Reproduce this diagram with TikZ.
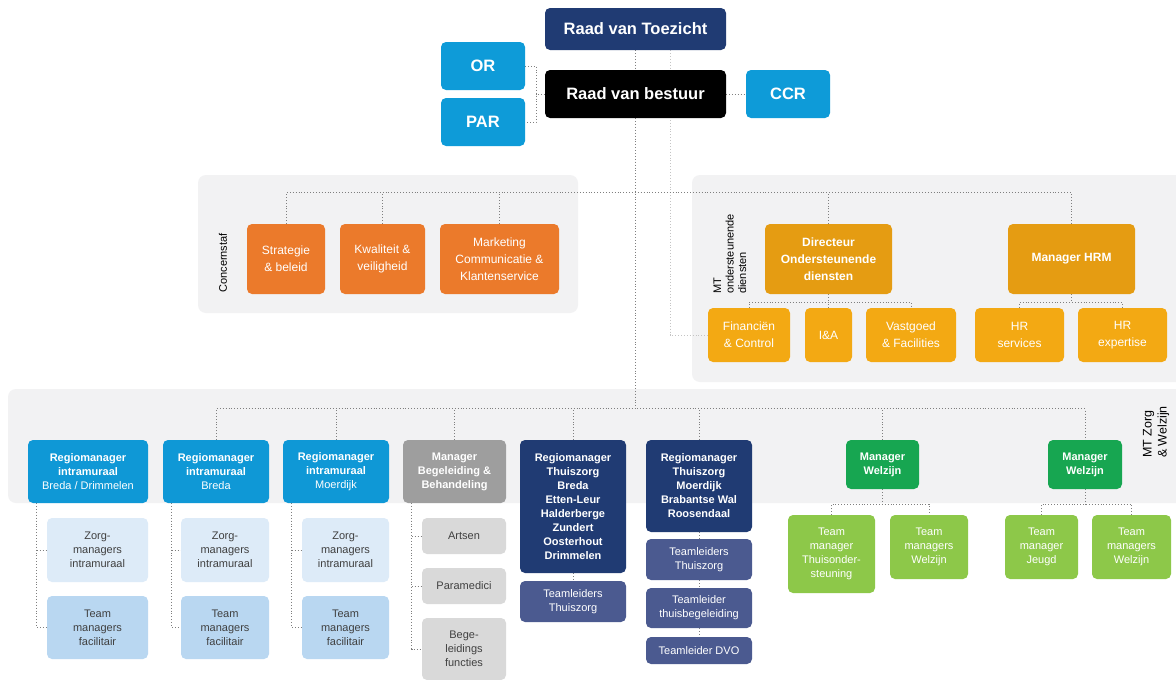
\documentclass[tikz,border=0pt]{standalone}
\usepackage{fontspec}
\setmainfont{Liberation Sans}
\usetikzlibrary{calc}
\definecolor{navy}{HTML}{203B73}
\definecolor{cyanb}{HTML}{0E9BD8}
\definecolor{orng}{HTML}{EB7A2B}
\definecolor{goldD}{HTML}{E59C12}
\definecolor{goldL}{HTML}{F3A913}
\definecolor{blueR}{HTML}{0F98D6}
\definecolor{lblueA}{HTML}{DDEBF8}
\definecolor{lblueB}{HTML}{B9D7F1}
\definecolor{grayM}{HTML}{9E9E9E}
\definecolor{grayL}{HTML}{D9D9D9}
\definecolor{navyL}{HTML}{4B5A90}
\definecolor{greenD}{HTML}{17A651}
\definecolor{greenL}{HTML}{8DC849}
\definecolor{panelc}{HTML}{F2F2F3}
\definecolor{dotc}{HTML}{7F7F7F}
\definecolor{dotl}{HTML}{C4C4C4}
\definecolor{textd}{HTML}{404040}
\pgfdeclarelayer{panel}
\pgfdeclarelayer{lines}
\pgfsetlayers{panel,lines,main}
\tikzset{
  base/.style={rounded corners=5pt, inner sep=0pt, align=center, text=white},
  sz/.style 2 args={minimum width=#1, minimum height=#2},
  tb/.style={font=\bfseries\fontsize{16.5}{20}\selectfont},
  mid/.style={font=\fontsize{12}{17}\selectfont},
  midb/.style={font=\bfseries\fontsize{12}{17}\selectfont},
  low/.style={font=\fontsize{11}{14}\selectfont},
  lowb/.style={font=\bfseries\fontsize{11}{14}\selectfont},
  sub/.style={base, low, text=textd},
  conn/.style={draw=dotc, line width=0.9pt, dash pattern=on 0.9pt off 2pt},
  connl/.style={draw=dotl, line width=0.9pt, dash pattern=on 0.9pt off 2pt},
  lbl/.style={rotate=90, align=left, text=black, inner sep=0pt},
}
\begin{document}
\begin{tikzpicture}[x=1pt,y=-1pt]
\useasboundingbox (0,0) rectangle (1176,680);
\begin{pgfonlayer}{panel}
\fill[white] (0,0) rectangle (1176,680);
\fill[panelc, rounded corners=8pt] (198,175) rectangle (578,313);
\fill[panelc, rounded corners=8pt] (692,175) rectangle (1192,382);
\fill[panelc, rounded corners=8pt] (8,389) rectangle (1192,503);
\end{pgfonlayer}

% top
\node[base,tb,fill=navy,sz={181}{42}] (rvt) at (635.5,29) {Raad van Toezicht};
\node[base,tb,fill=black,sz={181}{48}] (rvb) at (635.5,94) {Raad van bestuur};
\node[base,tb,fill=cyanb,sz={84}{48}] (or) at (483,66) {OR};
\node[base,tb,fill=cyanb,sz={84}{48}] (par) at (483,122) {PAR};
\node[base,tb,fill=cyanb,sz={84}{48}] (ccr) at (788,94) {CCR};

% concernstaf
\node[base,mid,fill=orng,sz={78}{70}] (strat) at (286,259) {Strategie\\\& beleid};
\node[base,mid,fill=orng,sz={85}{70}] (kwal) at (382.5,259) {Kwaliteit \&\\veiligheid};
\node[base,mid,fill=orng,sz={119}{70}] (mark) at (499.5,259) {Marketing\\Communicatie \&\\Klantenservice};

% ondersteunende diensten
\node[base,midb,fill=goldD,sz={127}{70}] (dir) at (828.5,259) {Directeur\\Ondersteunende\\diensten};
\node[base,midb,fill=goldD,sz={127}{70}] (hrm) at (1071.5,259) {Manager HRM};
\node[base,mid,fill=goldL,sz={82}{54}] (fin) at (749,335) {Financiën\\\& Control};
\node[base,mid,fill=goldL,sz={47}{54}] (ia) at (828.5,335) {I\&A};
\node[base,mid,fill=goldL,sz={90}{54}] (vast) at (911,335) {Vastgoed\\\& Facilities};
\node[base,mid,fill=goldL,sz={89}{54}] (hrs) at (1019.5,335) {HR\\services};
\node[base,mid,fill=goldL,sz={89}{54}] (hre) at (1122.5,335) {HR\\expertise};

% zorg & welzijn
\node[base,low,fill=blueR,sz={120}{63}] (rm1) at (88,471.5) {\textbf{Regiomanager}\\\textbf{intramuraal}\\Breda / Drimmelen};
\node[base,low,fill=blueR,sz={106}{63}] (rm2) at (216,471.5) {\textbf{Regiomanager}\\\textbf{intramuraal}\\Breda};
\node[base,low,fill=blueR,sz={106}{63}] (rm3) at (336,471.5) {\textbf{Regiomanager}\\\textbf{intramuraal}\\Moerdijk};
\node[sub,fill=lblueA,sz={101}{64}] (zm1) at (97.5,550) {Zorg-\\managers\\intramuraal};
\node[sub,fill=lblueB,sz={101}{63}] (tm1) at (97.5,627.5) {Team\\managers\\facilitair};
\node[sub,fill=lblueA,sz={88}{64}] (zm2) at (225,550) {Zorg-\\managers\\intramuraal};
\node[sub,fill=lblueB,sz={88}{63}] (tm2) at (225,627.5) {Team\\managers\\facilitair};
\node[sub,fill=lblueA,sz={87}{64}] (zm3) at (345.5,550) {Zorg-\\managers\\intramuraal};
\node[sub,fill=lblueB,sz={87}{63}] (tm3) at (345.5,627.5) {Team\\managers\\facilitair};

\node[base,lowb,fill=grayM,sz={103}{63}] (mbb) at (454.5,471.5) {Manager\\Begeleiding \&\\Behandeling};
\node[sub,fill=grayL,sz={84}{36}] (arts) at (464,536) {Artsen};
\node[sub,fill=grayL,sz={84}{36}] (para) at (464,586) {Paramedici};
\node[sub,fill=grayL,sz={84}{62}] (bege) at (464,649) {Bege-\\leidings\\functies};

\node[base,lowb,fill=navy,sz={106}{133}] (rtb) at (573,506.5) {Regiomanager\\Thuiszorg\\Breda\\Etten-Leur\\Halderberge\\Zundert\\Oosterhout\\Drimmelen};
\node[base,low,fill=navyL,sz={106}{41}] (tlb) at (573,601.5) {Teamleiders\\Thuiszorg};
\node[base,lowb,fill=navy,sz={106}{92}] (rtm) at (699,486) {Regiomanager\\Thuiszorg\\Moerdijk\\Brabantse Wal\\Roosendaal};
\node[base,low,fill=navyL,sz={106}{41}] (tlm1) at (699,559.5) {Teamleiders\\Thuiszorg};
\node[base,low,fill=navyL,sz={106}{40}] (tlm2) at (699,608) {Teamleider\\thuisbegeleiding};
\node[base,low,fill=navyL,sz={106}{27}] (tlm3) at (699,650.5) {Teamleider DVO};

\node[base,lowb,fill=greenD,sz={73}{49}] (mw1) at (882.5,464.5) {Manager\\Welzijn};
\node[base,lowb,fill=greenD,sz={74}{49}] (mw2) at (1085,464.5) {Manager\\Welzijn};
\node[base,low,fill=greenL,sz={87}{78}] (tw1) at (831.5,554) {Team\\manager\\Thuisonder-\\steuning};
\node[base,low,fill=greenL,sz={78}{64}] (tw2) at (929,547) {Team\\managers\\Welzijn};
\node[base,low,fill=greenL,sz={73}{64}] (tw3) at (1041.5,547) {Team\\manager\\Jeugd};
\node[base,low,fill=greenL,sz={79}{64}] (tw4) at (1131.5,547) {Team\\managers\\Welzijn};

% labels
\node[lbl,font=\fontsize{11}{13}\selectfont] (lc) at (223,263) {Concernstaf};
\node[lbl,font=\fontsize{11}{12.5}\selectfont] (lo) at (730,254) {MT\\ondersteunende\\diensten};
\node[lbl,font=\fontsize{12.5}{15}\selectfont] (lz) at (1156,432) {MT Zorg\\\& Welzijn};

% connectors
\begin{pgfonlayer}{lines}
\draw[connl] ([xshift=34.5pt]rvt.south) |- (fin.west);
\draw[conn] (rvt.south) -- (rvb.north);
\draw[conn] (or.east) -- ++(11,0) |- (par.east);
\draw[conn] (rvb.west) -- ++(-9,0);
\draw[conn] (rvb.east) -- (ccr.west);

\coordinate (hz) at ($(rm2.north)+(0,-31)$);
\draw[conn] (rvb.south) -- (rvb.south |- hz);
\draw[conn] (rm2.north) -- (rm2.north |- hz) -- (mw2.north |- hz) -- (mw2.north);
\foreach \n in {rm3,mbb,rtb,rtm,mw1} \draw[conn] (\n.north) -- (\n.north |- hz);

\coordinate (hc) at ($(strat.north)+(0,-31)$);
\draw[conn] (strat.north) -- (strat.north |- hc) -- (hrm.north |- hc) -- (hrm.north);
\foreach \n in {kwal,mark,dir} \draw[conn] (\n.north) -- (\n.north |- hc);

\coordinate (dj) at ($(dir.south)+(0,8)$);
\draw[conn] (dir.south) -- (dj);
\draw[conn] (fin.north) -- (fin.north |- dj) -- (vast.north |- dj) -- (vast.north);
\draw[conn] (ia.north) -- (ia.north |- dj);
\coordinate (hj) at ($(hrm.south)+(0,8)$);
\draw[conn] (hrm.south) -- (hj);
\draw[conn] (hrs.north) -- (hrs.north |- hj) -- (hre.north |- hj) -- (hre.north);

\foreach \i in {1,2,3} {
  \coordinate (v\i) at ([xshift=9pt]rm\i.south west);
  \draw[conn] (v\i) |- (tm\i.west);
  \draw[conn] (v\i |- zm\i.west) -- (zm\i.west);
}
\coordinate (vb) at ([xshift=9pt]mbb.south west);
\draw[conn] (vb) |- (bege.west);
\draw[conn] (vb |- arts.west) -- (arts.west);
\draw[conn] (vb |- para.west) -- (para.west);

\draw[conn] (rtb.south) -- (tlb.north);
\draw[conn] (rtm.south) -- (tlm1.north);
\draw[conn] (tlm1.south) -- (tlm2.north);
\draw[conn] (tlm2.south) -- (tlm3.north);

\coordinate (g1) at ($(mw1.south)+(0,15)$);
\draw[conn] (mw1.south) -- (g1);
\draw[conn] (tw1.north) -- (tw1.north |- g1) -- (tw2.north |- g1) -- (tw2.north);
\coordinate (g2) at ($(mw2.south)+(0,15)$);
\draw[conn] (mw2.south) -- (g2);
\draw[conn] (tw3.north) -- (tw3.north |- g2) -- (tw4.north |- g2) -- (tw4.north);
\end{pgfonlayer}
\end{tikzpicture}
\end{document}
